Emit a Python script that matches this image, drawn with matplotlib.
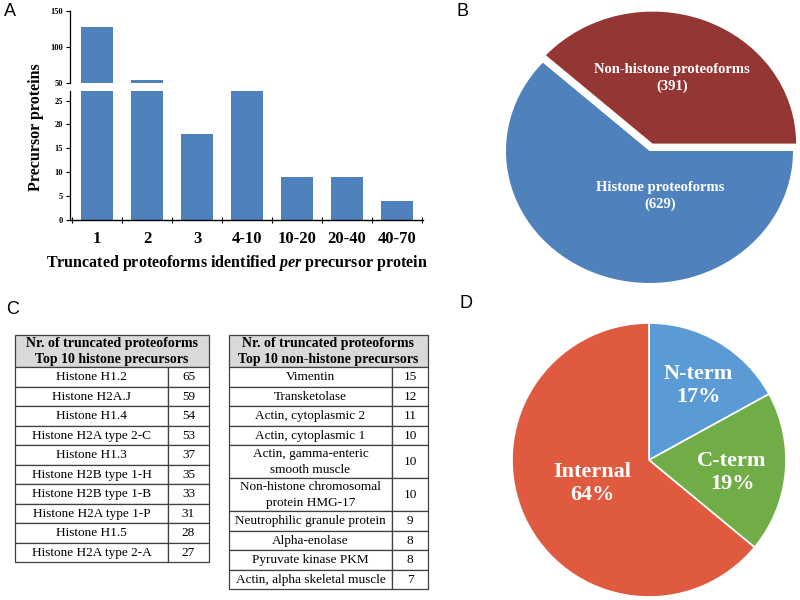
import matplotlib
matplotlib.use("Agg")
import matplotlib.pyplot as plt
from matplotlib.patches import Rectangle
import numpy as np

plt.rcParams['font.family'] = ['Liberation Serif', 'DejaVu Serif']
plt.rcParams['mathtext.fontset'] = 'custom'
plt.rcParams['mathtext.it'] = 'Liberation Serif:italic:bold'
plt.rcParams['mathtext.rm'] = 'Liberation Serif:bold'
plt.rcParams['mathtext.bf'] = 'Liberation Serif:bold'

# ---------------- data ----------------
# Panel A
bin_labels = ["1", "2", "3", "4-10", "10-20", "20-40", "40-70"]
precursor_counts = [128, 54, 18, 27, 9, 9, 4]
lower_ticks = [0, 5, 10, 15, 20, 25]
upper_ticks = [50, 100, 150]

# Panel B
b_labels = ["Non-histone proteoforms", "Histone proteoforms"]
b_values = [391, 629]
b_colors = ["#943634", "#4F81BD"]

# Panel C
c_header_left = "Nr. of truncated proteoforms\nTop 10 histone precursors"
c_header_right = "Nr. of truncated proteoforms\nTop 10 non-histone precursors"
histone_names = ["Histone H1.2", "Histone H2A.J", "Histone H1.4", "Histone H2A type 2-C",
                 "Histone H1.3", "Histone H2B type 1-H", "Histone H2B type 1-B",
                 "Histone H2A type 1-P", "Histone H1.5", "Histone H2A type 2-A"]
histone_counts = [65, 59, 54, 53, 37, 35, 33, 31, 28, 27]
nonhistone_names = ["Vimentin", "Transketolase", "Actin, cytoplasmic 2", "Actin, cytoplasmic 1",
                    "Actin, gamma-enteric\nsmooth muscle", "Non-histone chromosomal\nprotein HMG-17",
                    "Neutrophilic granule protein", "Alpha-enolase", "Pyruvate kinase PKM",
                    "Actin, alpha skeletal muscle"]
nonhistone_counts = [15, 12, 11, 10, 10, 10, 9, 8, 8, 7]

# Panel D
d_labels = ["N-term", "C-term", "Internal"]
d_values = [17, 19, 64]
d_colors = ["#5B9BD5", "#70AD47", "#E05A3F"]

# ---------------- figure ----------------
W, H = 800, 600
fig = plt.figure(figsize=(8, 6), dpi=100)


def rect(x0, y0, x1, y1):
    return [x0 / W, 1 - y1 / H, (x1 - x0) / W, (y1 - y0) / H]


# overlay axes in pixel coordinates for tables and panel letters
ax_t = fig.add_axes([0, 0, 1, 1])
ax_t.set_xlim(0, W)
ax_t.set_ylim(H, 0)
ax_t.axis('off')

for letter, (lx, ly) in zip("ABCD", [(10, 12), (462, 12), (13, 310), (466, 303)]):
    ax_t.text(lx, ly, letter, fontsize=13, family='Liberation Sans', ha='center', va='center')

# ---------------- Panel A ----------------
bar_blue = "#4F81BD"
x = np.arange(len(bin_labels))
ax_lo = fig.add_axes(rect(70, 91, 423, 220))
ax_hi = fig.add_axes(rect(70, 10.7, 423, 83))
for ax in (ax_lo, ax_hi):
    ax.bar(x, precursor_counts, width=0.64, color=bar_blue, zorder=2)
    ax.set_xlim(-0.54, 6.52)
    ax.spines['top'].set_visible(False)
    ax.spines['right'].set_visible(False)
    ax.spines['left'].set_linewidth(0.9)
    ax.tick_params(axis='y', direction='out', length=3, width=0.8, labelsize=6, pad=2)
    for lab in ax.get_yticklabels():
        lab.set_fontweight('bold')
ax_lo.set_ylim(0, 27)
ax_lo.set_yticks(lower_ticks)
ax_lo.set_yticklabels([str(t) for t in lower_ticks], fontsize=6, fontweight='bold')
ax_lo.spines['bottom'].set_linewidth(1.0)
ax_lo.set_xticks(x)
ax_lo.set_xticklabels(bin_labels, fontsize=12, fontweight='bold')
ax_lo.tick_params(axis='x', which='major', length=0, pad=8)
ax_lo.set_xticks(np.arange(-0.5, len(bin_labels), 1), minor=True)
ax_lo.tick_params(axis='x', which='minor', direction='inout', length=5, width=0.8)

ax_hi.set_ylim(50, 150)
ax_hi.set_yticks(upper_ticks)
ax_hi.set_yticklabels([str(t) for t in upper_ticks], fontsize=6, fontweight='bold')
ax_hi.spines['bottom'].set_visible(False)
ax_hi.set_xticks([])

fig.text(36 / W, 1 - 127 / H, "Precursor proteins", rotation=90, fontsize=11.5,
         fontweight='bold', ha='center', va='center')
fig.text(237 / W, 1 - 263 / H, r"Truncated proteoforms identified $\mathit{per}$ precursor protein",
         fontsize=11.5, fontweight='bold', ha='center', va='center')

# ---------------- Panel B ----------------
bcx, bcy, brx, bry = 649.5, 151, 143.5, 132
m = 1.12
ax_b = fig.add_axes(rect(bcx - brx * m, bcy - bry * m, bcx + brx * m, bcy + bry * m))
ax_b.pie(b_values, colors=b_colors, startangle=0, counterclock=True,
         explode=[0.06, 0], wedgeprops=dict(linewidth=0))
ax_b.set_aspect('auto')
ax_b.set_xlim(-m, m)
ax_b.set_ylim(-m, m)
ax_b.axis('off')
b_text_pos = [(0.157, 0.55), (0.073, -0.34)]
for name, val, (tx, ty) in zip(b_labels, b_values, b_text_pos):
    ax_b.text(tx, ty, f"{name}\n({val})", color='white', fontsize=10.5, fontweight='bold',
              ha='center', va='center', linespacing=1.35)

# ---------------- Panel D ----------------
dcx, dcy, dr = 649, 460, 137
md = 1.02
ax_d = fig.add_axes(rect(dcx - dr * md, dcy - dr * md, dcx + dr * md, dcy + dr * md))
ax_d.pie(d_values, colors=d_colors, startangle=90, counterclock=False,
         wedgeprops=dict(edgecolor='white', linewidth=1.2))
ax_d.set_xlim(-md, md)
ax_d.set_ylim(-md, md)
ax_d.axis('off')
d_text_pos = [(0.358, 0.547), (0.606, -0.088), (-0.416, -0.175)]
for name, val, (tx, ty) in zip(d_labels, d_values, d_text_pos):
    ax_d.text(tx, ty, f"{name}\n{val}%", color='white', fontsize=16, fontweight='bold',
              ha='center', va='center', linespacing=1.2)

# ---------------- Panel C (tables) ----------------
line_col = '#404040'


def draw_table(ax, x0, xdiv, x1, y0, header, names, counts, header_h=32, row_h=19.5, dbl_h=33):
    ax.add_patch(Rectangle((x0, y0), x1 - x0, header_h, facecolor='#D9D9D9',
                           edgecolor=line_col, linewidth=0.9))
    ax.text((x0 + x1) / 2, y0 + header_h / 2 + 0.5, header, fontsize=10, fontweight='bold',
            ha='center', va='center', linespacing=1.4)
    y = y0 + header_h
    for name, cnt in zip(names, counts):
        h = dbl_h if '\n' in name else row_h
        ax.add_patch(Rectangle((x0, y), xdiv - x0, h, facecolor='white',
                               edgecolor=line_col, linewidth=0.9))
        ax.add_patch(Rectangle((xdiv, y), x1 - xdiv, h, facecolor='white',
                               edgecolor=line_col, linewidth=0.9))
        ax.text((x0 + xdiv) / 2, y + h / 2 + 0.5, name, fontsize=9.5, ha='center', va='center',
                linespacing=1.35)
        ax.text((xdiv + x1) / 2, y + h / 2 + 0.5, str(cnt), fontsize=9.5, ha='center', va='center')
        y += h


draw_table(ax_t, 15, 168, 209, 335, c_header_left, histone_names, histone_counts)
draw_table(ax_t, 229, 392, 428, 335, c_header_right, nonhistone_names, nonhistone_counts)

fig.savefig("out.png", dpi=100, facecolor='white')
